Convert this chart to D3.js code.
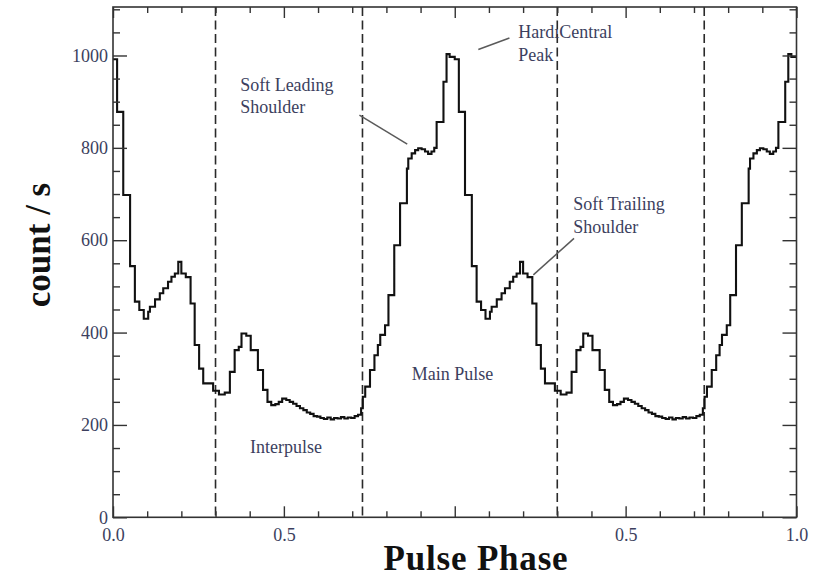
<!DOCTYPE html>
<html>
<head>
<meta charset="utf-8">
<script src="https://cdn.jsdelivr.net/npm/d3@7/dist/d3.min.js"></script>
<style>
  html, body { margin: 0; padding: 0; background: #ffffff; }
  svg { display: block; }
  .tick text { font-family: "Liberation Serif", "Times New Roman", serif; }
</style>
</head>
<body>
<svg id="chart" width="814" height="579"></svg>
<script>
// Folded light curve for one rotation: variable-width phase bins and the mean rate in each.
const binEdges = [
  0.000, 0.012, 0.030, 0.050, 0.064, 0.077, 0.090, 0.103, 0.108, 0.123,
  0.137, 0.147, 0.161, 0.171, 0.181, 0.191, 0.200, 0.213, 0.227, 0.239,
  0.252, 0.264, 0.293, 0.310, 0.327, 0.342, 0.356, 0.368, 0.376, 0.390,
  0.403, 0.424, 0.439, 0.452, 0.463, 0.475, 0.485, 0.495, 0.507, 0.517,
  0.527, 0.537, 0.547, 0.557, 0.567, 0.577, 0.587, 0.597, 0.607, 0.617,
  0.627, 0.637, 0.647, 0.657, 0.667, 0.677, 0.687, 0.697, 0.707, 0.717,
  0.726, 0.731, 0.738, 0.752, 0.765, 0.775, 0.782, 0.796, 0.806, 0.823,
  0.840, 0.860, 0.864, 0.874, 0.884, 0.893, 0.903, 0.913, 0.922, 0.932,
  0.940, 0.947, 0.967, 0.976, 0.985, 1.000
];
const binCounts = [
  992, 878, 698, 544, 467, 449, 430, 445, 456,
  472, 485, 496, 510, 521, 528, 553, 528, 520, 463,
  373, 322, 290, 274, 266, 270, 315, 362, 369, 398,
  393, 362, 319, 276, 250, 243, 245, 250, 257, 254,
  250, 246, 241, 236, 232, 227, 224, 219, 218, 215,
  213, 216, 212, 215, 214, 217, 214, 216, 215, 219,
  222, 236, 261, 283, 319, 351, 373, 395, 416, 481,
  589, 680, 755, 777, 788, 795, 799, 797, 792, 787,
  792, 800, 856, 943, 1003, 997
];
// The profile is shown over two rotations.
const rotations = [0, 1];

// Phase boundaries separating the main pulse from the interpulse.
const phaseDividers = [0.3, 0.73, 1.3, 1.73];

// Axis ticks and labels.
const xMajorTicks = [0, 0.5, 1, 1.5, 2];
const xTickLabels = ["0.0", "0.5", "", "0.5", "1.0"];
const xMinorTicks = [0.1, 0.2, 0.3, 0.4, 0.6, 0.7, 0.8, 0.9, 1.1, 1.2, 1.3, 1.4, 1.6, 1.7, 1.8, 1.9];
const yMajorTicks = [0, 200, 400, 600, 800, 1000];
const yMinorTicks = [50, 100, 150, 250, 300, 350, 450, 500, 550, 650, 700, 750, 850, 900, 950, 1050, 1100];

// Region names and feature call-outs.
const annotationTexts = [
  ["Soft Leading", "Shoulder"],
  ["Hard\u0131Central", "Peak"],
  ["Soft Trailing", "Shoulder"],
  ["Main Pulse"],
  ["Interpulse"]
];

const svg = d3.select("#chart");
const serif = '"Liberation Serif", "Times New Roman", serif';
const labelColor = "#3c3f5e";
const axisColor = "#333333";

const x = d3.scaleLinear().domain([0, 2]).range([113, 796.5]);
const y = d3.scaleLinear().domain([0, 1105]).range([517.3, 7]);

const [x0, x1] = x.range();
const [yb, yt] = y.range();

// Step curve points built from the bins of each rotation.
const stepPoints = [];
rotations.forEach(r => {
  binCounts.forEach((c, i) => stepPoints.push([binEdges[i] + r, c]));
});
stepPoints.push([binEdges[binEdges.length - 1] + rotations[rotations.length - 1], binCounts[binCounts.length - 1]]);

// Dashed phase dividers
svg.append("g")
  .selectAll("line")
  .data(phaseDividers)
  .join("line")
  .attr("x1", d => x(d)).attr("x2", d => x(d))
  .attr("y1", yt).attr("y2", yb)
  .attr("stroke", "#2a2a2a")
  .attr("stroke-width", 1.6)
  .attr("stroke-dasharray", "9,4.5");

// Light curve
const stepLine = d3.line()
  .x(d => x(d[0]))
  .y(d => y(d[1]))
  .curve(d3.curveStepAfter);

svg.append("defs").append("clipPath").attr("id", "plotClip")
  .append("rect").attr("x", x0).attr("y", yt).attr("width", x1 - x0).attr("height", yb - yt);

svg.append("path")
  .datum(stepPoints)
  .attr("clip-path", "url(#plotClip)")
  .attr("fill", "none")
  .attr("stroke", "#111111")
  .attr("stroke-width", 2.1)
  .attr("stroke-linejoin", "miter")
  .attr("d", stepLine);

// Axes: ticks point inward on all four sides.
function styleAxis(g) {
  g.select(".domain").remove();
  g.selectAll(".tick line").attr("stroke", axisColor).attr("stroke-width", 1.4);
  g.selectAll(".tick text")
    .attr("fill", labelColor)
    .style("font-family", serif)
    .style("font-size", "18px");
}

svg.append("g")
  .attr("transform", `translate(0,${yb})`)
  .call(d3.axisBottom(x).tickValues(xMajorTicks).tickSize(-11).tickPadding(11)
    .tickFormat((d, i) => xTickLabels[i]))
  .call(styleAxis);
svg.append("g")
  .attr("transform", `translate(0,${yb})`)
  .call(d3.axisBottom(x).tickValues(xMinorTicks).tickSize(-6).tickFormat(""))
  .call(styleAxis);
svg.append("g")
  .attr("transform", `translate(0,${yt})`)
  .call(d3.axisTop(x).tickValues(xMajorTicks).tickSize(-11).tickFormat(""))
  .call(styleAxis);
svg.append("g")
  .attr("transform", `translate(0,${yt})`)
  .call(d3.axisTop(x).tickValues(xMinorTicks).tickSize(-6).tickFormat(""))
  .call(styleAxis);

svg.append("g")
  .attr("transform", `translate(${x0},0)`)
  .call(d3.axisLeft(y).tickValues(yMajorTicks).tickSize(-14).tickPadding(5)
    .tickFormat(d3.format("d")))
  .call(styleAxis);
svg.append("g")
  .attr("transform", `translate(${x0},0)`)
  .call(d3.axisLeft(y).tickValues(yMinorTicks).tickSize(-7).tickFormat(""))
  .call(styleAxis);
svg.append("g")
  .attr("transform", `translate(${x1},0)`)
  .call(d3.axisRight(y).tickValues(yMajorTicks).tickSize(-14).tickFormat(""))
  .call(styleAxis);
svg.append("g")
  .attr("transform", `translate(${x1},0)`)
  .call(d3.axisRight(y).tickValues(yMinorTicks).tickSize(-7).tickFormat(""))
  .call(styleAxis);

// Frame
svg.append("rect")
  .attr("x", x0).attr("y", yt)
  .attr("width", x1 - x0).attr("height", yb - yt)
  .attr("fill", "none")
  .attr("stroke", axisColor)
  .attr("stroke-width", 1.6);

// Call-out leader lines, in data coordinates: [phase, rate] -> [phase, rate]
const leaders = [
  [[0.721, 871], [0.861, 808]],
  [[1.069, 1013], [1.160, 1038]],
  [[1.230, 525], [1.349, 604]]
];
svg.append("g")
  .selectAll("line")
  .data(leaders)
  .join("line")
  .attr("x1", d => x(d[0][0])).attr("y1", d => y(d[0][1]))
  .attr("x2", d => x(d[1][0])).attr("y2", d => y(d[1][1]))
  .attr("stroke", "#5a5a5a")
  .attr("stroke-width", 1.5);

// Text anchors (phase, rate of the first baseline)
const annotationAnchors = [
  [0.372, 924],
  [1.186, 1037],
  [1.347, 665],
  [0.874, 297],
  [0.401, 140]
];
const lineGap = 22.8;
const notes = svg.append("g")
  .style("font-family", serif)
  .style("font-size", "18px")
  .attr("fill", labelColor);
annotationTexts.forEach((lines, i) => {
  const t = notes.append("text")
    .attr("x", x(annotationAnchors[i][0]))
    .attr("y", y(annotationAnchors[i][1]));
  lines.forEach((s, j) => {
    t.append("tspan")
      .attr("x", x(annotationAnchors[i][0]))
      .attr("dy", j === 0 ? 0 : lineGap)
      .text(s);
  });
});

// Axis titles
svg.append("text")
  .attr("x", 476)
  .attr("y", 570)
  .attr("text-anchor", "middle")
  .style("font-family", serif)
  .style("font-weight", "bold")
  .style("font-size", "35px")
  .style("letter-spacing", "0.8px")
  .attr("fill", "#111")
  .text("Pulse Phase");

svg.append("text")
  .attr("transform", `translate(50,245) rotate(-90)`)
  .attr("text-anchor", "middle")
  .style("font-family", serif)
  .style("font-weight", "bold")
  .style("font-size", "35px")
  .attr("fill", "#111")
  .text("count / s");
</script>
</body>
</html>
